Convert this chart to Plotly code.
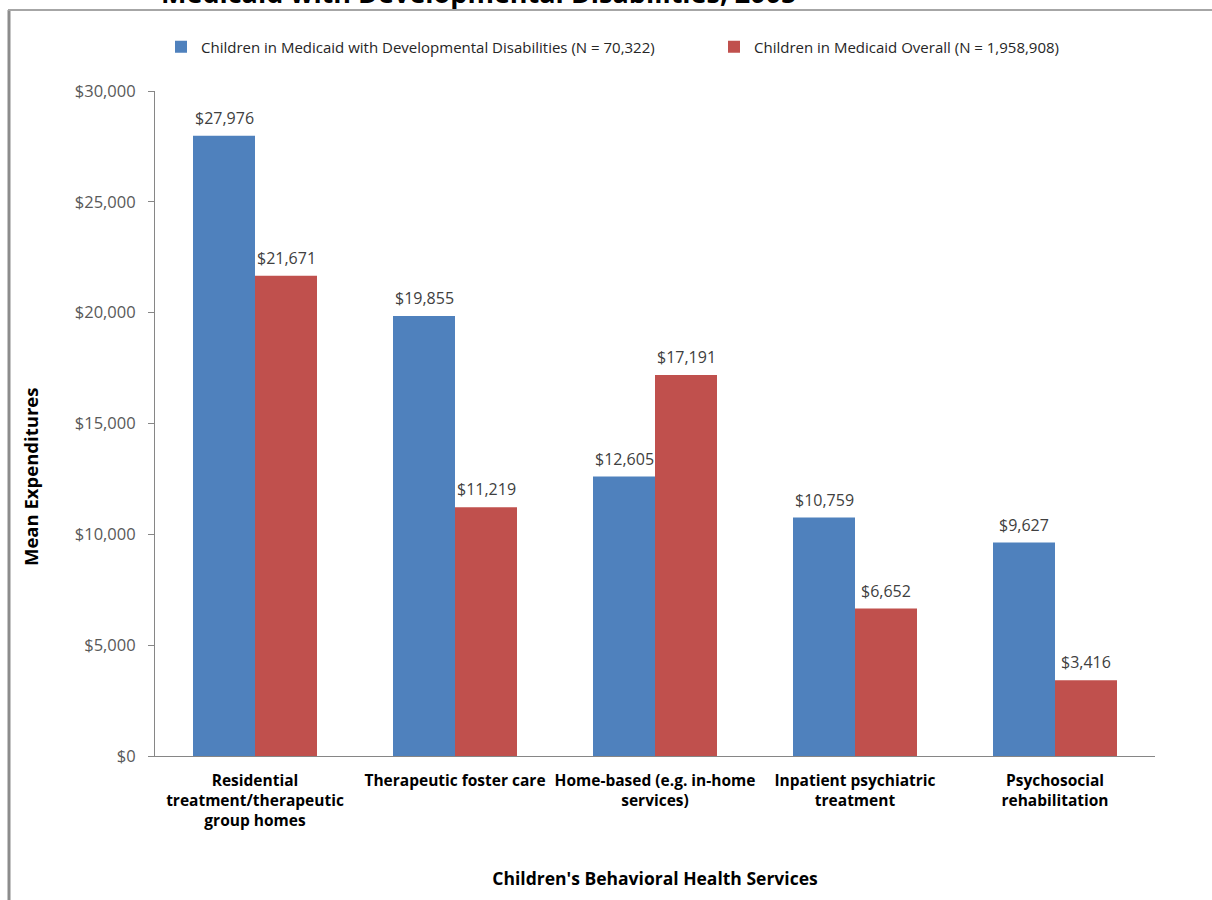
import plotly.graph_objects as go

categories = [
    "Residential<br>treatment/therapeutic<br>group homes",
    "Therapeutic foster care",
    "Home-based (e.g. in-home<br>services)",
    "Inpatient psychiatric<br>treatment",
    "Psychosocial<br>rehabilitation",
]
dd_values = [27976, 19855, 12605, 10759, 9627]
overall_values = [21671, 11219, 17191, 6652, 3416]
series_names = [
    "Children in Medicaid with Developmental Disabilities (N = 70,322)",
    "Children in Medicaid Overall (N = 1,958,908)",
]
title_text = "Medicaid with Developmental Disabilities, 2005"
x_title = "Children's Behavioral Health Services"
y_title = "Mean Expenditures"

BLUE = "#4F81BD"
RED = "#C0504D"
FONT = "Open Sans"

# plot area in pixels
L, R, T, B = 155, 1155, 91, 756
W, H = 1212, 900
BARGAP = 0.38


def px(x):
    return (x - L) / (R - L)


def py(y):
    return (B - y) / (B - T)


fig = go.Figure()
series = [(series_names[0], dd_values, BLUE, "legend"),
          (series_names[1], overall_values, RED, "legend2")]
for name, vals, col, lg in series:
    fig.add_trace(go.Bar(
        x=categories, y=vals, name=name, legend=lg,
        marker=dict(color=col, line=dict(width=0)),
    ))

# data labels above bars
half = (1 - BARGAP) / 2
for k, (name, vals, col, lg) in enumerate(series):
    off = -half / 2 if k == 0 else half / 2
    for i, v in enumerate(vals):
        fig.add_annotation(
            x=i + off, y=v, xref="x", yref="y", text="${:,}".format(v),
            showarrow=False, xanchor="center", yanchor="bottom", yshift=5,
            font=dict(family=FONT, size=16, color="#404040"),
        )

legend_common = dict(
    orientation="h", xanchor="left", yanchor="middle",
    font=dict(family=FONT, size=15, color="#262626"),
    itemwidth=30, bgcolor="rgba(0,0,0,0)",
)

fig.update_layout(
    width=W, height=H,
    margin=dict(l=L, r=W - R, t=T, b=H - B, autoexpand=False),
    paper_bgcolor="white", plot_bgcolor="white",
    barmode="group", bargap=BARGAP, bargroupgap=0,
    font=dict(family=FONT, color="#262626"),
    showlegend=True,
    legend=dict(x=px(161), y=py(47), **legend_common),
    legend2=dict(x=px(714), y=py(47), **legend_common),
    xaxis=dict(
        showline=True, linecolor="#868686", linewidth=1,
        ticks="", showgrid=False, ticklabelstandoff=10, tickangle=0,
        tickfont=dict(family=FONT, size=15.5, color="#000000", weight="bold"),
        title=dict(text=x_title,
                   font=dict(family=FONT, size=17.5, color="#000000", weight="bold"),
                   standoff=42),
    ),
    yaxis=dict(
        range=[0, 30000], dtick=5000, tickprefix="$", tickformat=",",
        showline=True, linecolor="#868686", linewidth=1,
        ticks="outside", ticklen=6, tickcolor="#868686",
        showgrid=False, zeroline=False, ticklabelstandoff=9,
        tickfont=dict(family=FONT, size=16.5, color="#595959"),
    ),
)

# y-axis title
fig.add_annotation(
    text=y_title, xref="paper", yref="paper", x=px(30), y=py(477),
    xanchor="center", yanchor="middle", textangle=-90, showarrow=False,
    font=dict(family=FONT, size=18.5, color="#000000", weight="bold"),
)

# cut-off title at top of the page
fig.add_annotation(
    text=title_text, xref="paper", yref="paper",
    x=px(478), y=py(-8), xanchor="center", yanchor="middle",
    showarrow=False,
    font=dict(family=FONT, size=27, color="#000000", weight="bold"),
)

# page border lines (left and top)
fig.add_shape(type="line", xref="paper", yref="paper",
              x0=px(9), x1=px(9), y0=py(10), y1=py(905),
              line=dict(color="#8c8c8c", width=3))
fig.add_shape(type="line", xref="paper", yref="paper",
              x0=px(8), x1=px(1215), y0=py(10), y1=py(10),
              line=dict(color="#a6a6a6", width=2))

fig.write_html("out.html")
